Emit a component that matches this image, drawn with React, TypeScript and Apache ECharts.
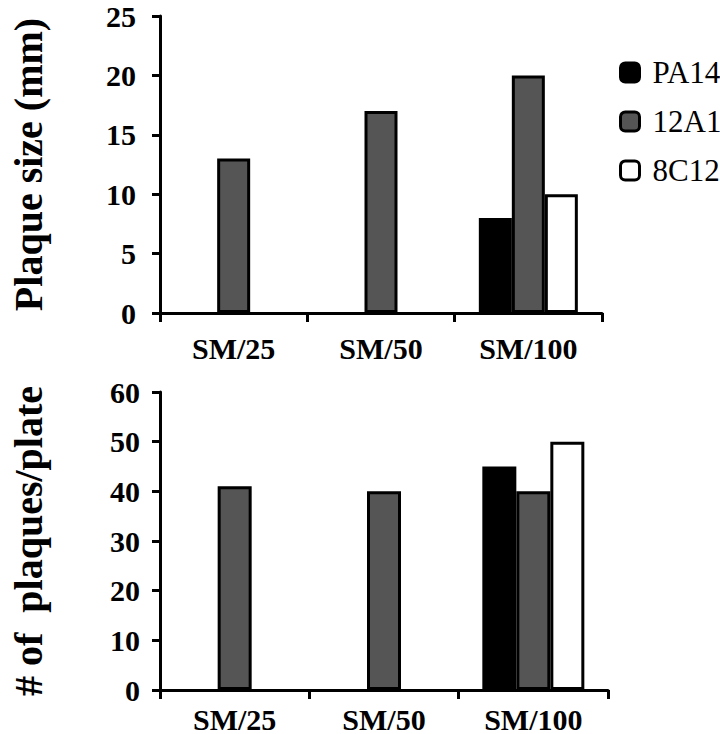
import React, { useEffect, useRef } from "react";
import * as echarts from "echarts";

const categories = ["SM/25", "SM/50", "SM/100"];
const seriesNames = ["PA14", "12A1", "8C12"];
const seriesColors = ["#000000", "#555555", "#ffffff"];

// Top panel: plaque size (mm)
const sizePA14 = [null, null, 8];
const size12A1 = [13, 17, 20];
const size8C12 = [null, null, 10];

// Bottom panel: # of plaques/plate
const countPA14 = [null, null, 45];
const count12A1 = [41, 40, 40];
const count8C12 = [null, null, 50];

const topAxis = { min: 0, max: 25, interval: 5 };
const bottomAxis = { min: 0, max: 60, interval: 10 };

const FONT = "'Liberation Serif', 'Times New Roman', serif";

export default function App() {
  const ref = useRef<HTMLDivElement>(null);
  useEffect(() => {
    if (!ref.current) return;
    const chart = echarts.init(ref.current, null, { renderer: "svg" });
    const axisLine = { show: true, lineStyle: { color: "#000", width: 3 } };
    const tickLbl = {
      color: "#000",
      fontFamily: FONT,
      fontWeight: "bold" as const,
      fontSize: 30,
      lineHeight: 26,
    };
    const xAxisCommon = (gridIndex: number, margin: number) => ({
      type: "category" as const,
      gridIndex,
      data: categories,
      boundaryGap: true,
      axisLine,
      axisTick: { show: true, inside: false, length: 9, lineStyle: { color: "#000", width: 3 } },
      axisLabel: { ...tickLbl, interval: 0, margin },
      splitLine: { show: false },
    });
    const yAxisCommon = (
      gridIndex: number,
      ax: any,
      name: string,
      margin: number,
      nameGap: number
    ) => ({
      type: "value" as const,
      gridIndex,
      min: ax.min,
      max: ax.max,
      interval: ax.interval,
      axisLine,
      axisTick: { show: true, inside: false, length: 8, lineStyle: { color: "#000", width: 3 } },
      axisLabel: { ...tickLbl, margin },
      splitLine: { show: false },
      name,
      nameLocation: "middle" as const,
      nameRotate: 90,
      nameGap,
      nameTextStyle: {
        color: "#000",
        fontFamily: FONT,
        fontWeight: "bold" as const,
        fontSize: 40,
      },
    });
    const mkSeries = (name: string, color: string, data: any[], idx: number, barWidth: number) => ({
      type: "bar" as const,
      name,
      data,
      xAxisIndex: idx,
      yAxisIndex: idx,
      barWidth,
      barGap: "0%",
      itemStyle: { color, borderColor: "#000", borderWidth: 3 },
    });
    const topData = [sizePA14, size12A1, size8C12];
    const bottomData = [countPA14, count12A1, count8C12];
    chart.setOption({
      animation: false,
      backgroundColor: "#fff",
      textStyle: { fontFamily: FONT },
      grid: [
        { left: 152, top: 16, width: 450, height: 297 },
        { left: 150, top: 392, width: 458, height: 298 },
      ],
      legend: {
        orient: "vertical",
        left: 614,
        top: 52,
        itemWidth: 19,
        itemHeight: 19,
        itemGap: 18,
        icon: "roundRect",
        data: seriesNames,
        itemStyle: { borderColor: "#000", borderWidth: 3 },
        textStyle: { color: "#000", fontFamily: FONT, fontSize: 31, padding: [0, 0, 0, 8] },
      },
      xAxis: [xAxisCommon(0, 22), xAxisCommon(1, 16)],
      yAxis: [
        yAxisCommon(0, topAxis, "Plaque size (mm)", 24, 112),
        yAxisCommon(1, bottomAxis, "# of  plaques/plate", 20, 112),
      ],
      series: [
        ...seriesNames.map((n, i) => mkSeries(n, seriesColors[i], topData[i], 0, 33)),
        ...seriesNames.map((n, i) => mkSeries(n, seriesColors[i], bottomData[i], 1, 34)),
      ],
    });
    return () => chart.dispose();
  }, []);
  return (
    <div
      ref={ref}
      style={{ position: "absolute", left: 0, top: 0, width: 720, height: 734 }}
    />
  );
}
